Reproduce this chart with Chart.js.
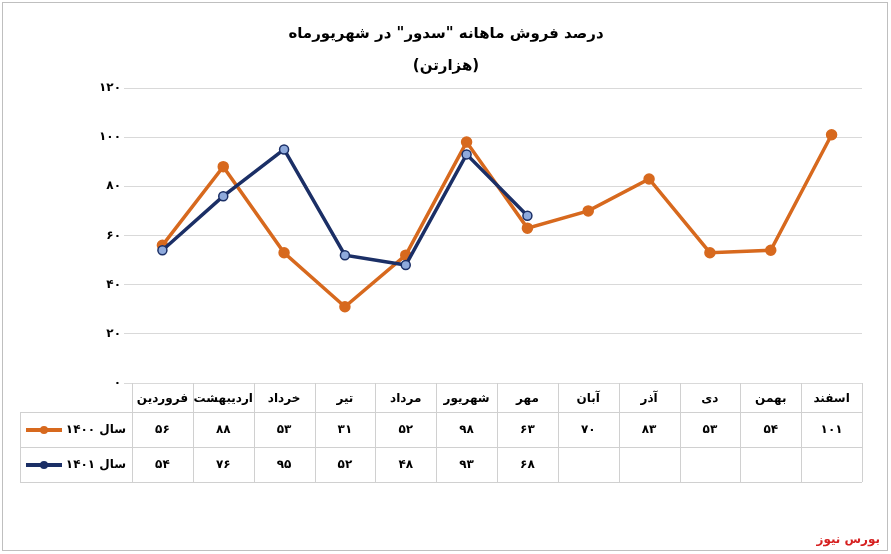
<!DOCTYPE html>
<html><head><meta charset="utf-8">
<script src="https://cdn.jsdelivr.net/npm/chart.js@4"></script>
<style>html,body{margin:0;padding:0;background:#fff}</style>
</head><body><canvas id="c" width="891" height="554"></canvas>
<script>
const categories=["فروردین","اردیبهشت","خرداد","تیر","مرداد","شهریور","مهر","آبان","آذر","دی","بهمن","اسفند"];
const series1400=[56,88,53,31,52,98,63,70,83,53,54,101];
const series1401=[54,76,95,52,48,93,68,null,null,null,null,null];
const label1400="سال ۱۴۰۰";
const label1401="سال ۱۴۰۱";
const titleLines=['درصد فروش ماهانه "سدور" در شهریورماه','(هزارتن)'];
const fa=n=>String(n).replace(/\d/g,d=>"۰۱۲۳۴۵۶۷۸۹"[d]);
const ORANGE="#D7691E",NAVY="#1B2F66";
const tablePlugin={id:"tbl",afterDraw(ch){
 const c=ch.ctx,a=ch.chartArea,x=ch.scales.x;
 c.save();
 c.strokeStyle="#bfbfbf";c.lineWidth=1;
 c.strokeRect(2.5,2.5,885,548);
 c.fillStyle="#000";c.textAlign="center";c.font="bold 15px 'DejaVu Sans'";
 c.fillText(titleLines[0],446,38);c.fillText(titleLines[1],446,70);
 const w=(a.right-a.left)/categories.length;
 c.strokeStyle="#d0d0d0";
 c.beginPath();
 for(let i=0;i<=categories.length;i++){const xx=Math.round(a.left+i*w)+0.5;c.moveTo(xx,a.bottom);c.lineTo(xx,482);}
 c.moveTo(20,412.5);c.lineTo(a.right,412.5);c.moveTo(20,447.5);c.lineTo(a.right,447.5);c.moveTo(20,482.5);c.lineTo(a.right,482.5);
 c.moveTo(20.5,412);c.lineTo(20.5,482);
 c.stroke();
 c.font="bold 12px 'DejaVu Sans'";c.textBaseline="middle";
 categories.forEach((t,i)=>{const cx=x.getPixelForValue(i);
  c.fillText(t,cx,399);
  c.fillText(fa(series1400[i]),cx,430);
  if(series1401[i]!=null)c.fillText(fa(series1401[i]),cx,465);});
 [[label1400,ORANGE,430],[label1401,NAVY,465]].forEach(([l,col,y])=>{
  c.strokeStyle=col;c.lineWidth=4;c.beginPath();c.moveTo(26,y);c.lineTo(62,y);c.stroke();
  c.fillStyle=col;c.beginPath();c.arc(44,y,4,0,7);c.fill();
  c.fillStyle="#000";c.textAlign="right";c.fillText(l,126,y);c.textAlign="center";});
 c.fillStyle="#d62020";c.textAlign="right";c.font="bold 12px 'DejaVu Sans'";c.fillText("بورس نیوز",880,540);
 c.restore();}};
new Chart(document.getElementById("c"),{type:"line",
 data:{labels:categories,datasets:[
  {data:series1400,order:2,borderColor:ORANGE,backgroundColor:ORANGE,pointBorderColor:ORANGE,borderWidth:3.5,pointRadius:4,tension:0},
  {data:series1401,order:1,borderColor:NAVY,backgroundColor:"#8FAADC",pointBorderColor:NAVY,pointBorderWidth:1.5,borderWidth:3.5,pointRadius:4.5,tension:0,spanGaps:false}]},
 options:{responsive:false,animation:false,devicePixelRatio:1,
  layout:{padding:{left:20,right:29,top:88,bottom:163}},
  plugins:{legend:{display:false},title:{display:false},tooltip:{enabled:false}},
  scales:{x:{offset:true,ticks:{display:false},grid:{display:false},border:{display:false}},
   y:{min:0,max:120,afterFit(s){s.width=112},ticks:{stepSize:20,callback:v=>fa(v),font:{size:12,weight:"bold",family:"DejaVu Sans"},color:"#000"},
    grid:{color:"#d9d9d9"},border:{display:false}}}},
 plugins:[tablePlugin]});
</script></body></html>
